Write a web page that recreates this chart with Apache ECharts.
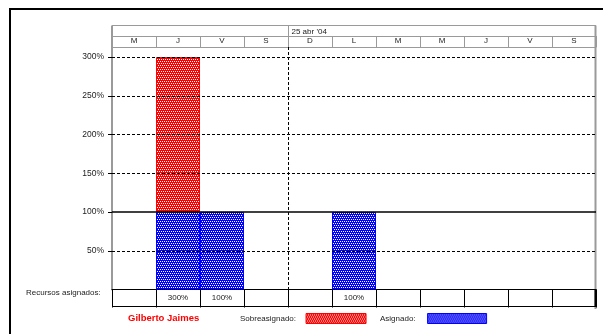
<!DOCTYPE html>
<html>
<head>
<meta charset="utf-8">
<script src="https://cdn.jsdelivr.net/npm/echarts@6/dist/echarts.min.js"></script>
<style>
  html, body { margin: 0; padding: 0; background: #fff; }
  #chart { width: 603px; height: 334px; }
</style>
</head>
<body>
<div id="chart"></div>
<script>
// Days shown in the resource graph (one column per day)
const days = ['21 abr', '22 abr', '23 abr', '24 abr', '25 abr', '26 abr', '27 abr', '28 abr', '29 abr', '30 abr', '1 may'];
const dayLetters = ['M', 'J', 'V', 'S', 'D', 'L', 'M', 'M', 'J', 'V', 'S'];
const weekLabel = "25 abr '04";
const weekStartIndex = 4;          // first day (Sunday) of the labelled week
const assigned = [0, 300, 100, 0, 0, 100, 0, 0, 0, 0, 0]; // % allocation per day
const capacity = 100;              // max units of the resource
const yTicks = [50, 100, 150, 200, 250, 300];
const resourceName = 'Gilberto Jaimes';
const rowLabel = 'Recursos asignados:';

// Split each day's allocation into the part within capacity and the excess
const withinCap = assigned.map(v => Math.min(v, capacity) || null);
const overCap = assigned.map(v => Math.max(v - capacity, 0) || null);

const FONT = '"Liberation Sans", Arial, sans-serif';
const GRID_LINE = '#9a9a9a';
const TEXT = '#222';

// Small dotted fill, like the classic resource-graph hatching
function hatch(color) {
  const c = document.createElement('canvas');
  c.width = 4; c.height = 4;
  const g = c.getContext('2d');
  g.fillStyle = color;
  g.fillRect(0, 0, 4, 4);
  g.fillStyle = '#ffffff';
  g.fillRect(0, 1, 1, 1);
  g.fillRect(2, 1, 1, 1);
  g.fillRect(1, 3, 1, 1);
  g.fillRect(3, 3, 1, 1);
  return { image: c, repeat: 'repeat' };
}

const chart = echarts.init(document.getElementById('chart'), null, { renderer: 'canvas' });

const legendBase = {
  top: 313, padding: 0, align: 'right', itemHeight: 10, selectedMode: false,
  formatter: '{name}:', icon: 'rect',
  itemStyle: { borderWidth: 1 }
};

const option = {
  animation: false,
  backgroundColor: '#fff',
  textStyle: { fontFamily: FONT },
  grid: { left: 112, right: 7, top: 47, bottom: 44.5 },
  title: {
    text: resourceName,
    left: 128, top: 313, padding: 0,
    textStyle: { color: '#ff0000', fontWeight: 'bold', fontSize: 9.5, fontFamily: FONT }
  },
  legend: [
    Object.assign({}, legendBase, {
      data: ['Sobreasignado'], left: 240, itemWidth: 60,
      textStyle: { fontSize: 8, color: TEXT, fontFamily: FONT, padding: [0, 5, 0, 0] }
    }),
    Object.assign({}, legendBase, {
      data: ['Asignado'], left: 380, itemWidth: 59,
      textStyle: { fontSize: 8, color: TEXT, fontFamily: FONT, padding: [0, 7, 0, 0] }
    })
  ],
  xAxis: [
    {
      // bottom row: the assigned percentage for each day
      type: 'category', data: days, position: 'bottom', boundaryGap: true,
      axisLine: { show: true, lineStyle: { color: '#000', width: 1 } },
      axisTick: { show: true, interval: 0, length: 18, lineStyle: { color: '#000', width: 1 } },
      axisLabel: {
        interval: 0, margin: 4, fontSize: 8, color: TEXT, fontFamily: FONT,
        formatter: (v, i) => assigned[i] ? assigned[i] + '%' : ''
      },
      splitLine: { show: false }
    },
    {
      // header row: weekday initials
      type: 'category', data: days, position: 'top', boundaryGap: true,
      axisLine: { show: true, lineStyle: { color: GRID_LINE, width: 1 } },
      axisTick: { show: true, interval: 0, length: 11, lineStyle: { color: GRID_LINE, width: 1 } },
      axisLabel: {
        interval: 0, margin: 2, fontSize: 8, color: TEXT, fontFamily: FONT,
        formatter: (v, i) => dayLetters[i]
      },
      splitLine: { show: false }
    }
  ],
  yAxis: {
    type: 'value', min: 0, max: 313,
    axisLine: { show: true, lineStyle: { color: GRID_LINE, width: 2 } },
    axisTick: { show: true, customValues: yTicks, length: 4, lineStyle: { color: '#000' } },
    axisLabel: {
      customValues: yTicks, margin: 8, fontSize: 8.5, color: TEXT, fontFamily: FONT,
      formatter: '{value}%'
    },
    splitLine: { show: false }
  },
  series: [
    {
      // horizontal reference lines at each tick
      type: 'line', data: [], z: 1, silent: true,
      markLine: {
        silent: true, symbol: 'none', label: { show: false },
        data: yTicks.map(v => ({
          yAxis: v,
          lineStyle: v === capacity
            ? { color: '#000', width: 1.5, type: 'solid' }
            : { color: '#000', width: 1, type: [3, 2] }
        }))
      }
    },
    {
      name: 'Asignado', type: 'bar', stack: 'alloc', data: withinCap, z: 3,
      barWidth: '100%', barCategoryGap: '0%',
      itemStyle: { color: hatch('#0000ff'), borderColor: '#0000ff', borderWidth: 1 }
    },
    {
      name: 'Sobreasignado', type: 'bar', stack: 'alloc', data: overCap, z: 3,
      barWidth: '100%', barCategoryGap: '0%',
      itemStyle: { color: hatch('#ff0000'), borderColor: '#ff0000', borderWidth: 1 }
    }
  ]
};

chart.setOption(option);

// Table frame around the graph; week divider placed from the category scale
const x0 = chart.convertToPixel({ xAxisIndex: 0 }, 0);
const x1 = chart.convertToPixel({ xAxisIndex: 0 }, 1);
const band = x1 - x0;
const left = x0 - band / 2;
const right = chart.convertToPixel({ xAxisIndex: 0 }, days.length - 1) + band / 2;
const weekX = Math.round(chart.convertToPixel({ xAxisIndex: 0 }, weekStartIndex) - band / 2) + 0.5;
const plotTop = chart.convertToPixel({ yAxisIndex: 0 }, 313);
const plotBottom = chart.convertToPixel({ yAxisIndex: 0 }, 0);
const yTop = 25.5, yMid = 36.5, yBottom = 306.5;

chart.setOption({
  graphic: [
    // outer frame
    { type: 'rect', shape: { x: 9, y: 8, width: 594, height: 2 }, style: { fill: '#000' }, silent: true },
    { type: 'rect', shape: { x: 9, y: 8, width: 2, height: 326 }, style: { fill: '#000' }, silent: true },
    // header rows
    { type: 'line', shape: { x1: left, y1: yTop, x2: right, y2: yTop }, style: { stroke: GRID_LINE, lineWidth: 1 }, silent: true },
    { type: 'line', shape: { x1: left, y1: yMid, x2: right, y2: yMid }, style: { stroke: GRID_LINE, lineWidth: 1 }, silent: true },
    { type: 'line', shape: { x1: left, y1: yTop, x2: left, y2: plotTop }, style: { stroke: GRID_LINE, lineWidth: 2 }, silent: true },
    { type: 'line', shape: { x1: weekX, y1: yTop, x2: weekX, y2: yMid }, style: { stroke: GRID_LINE, lineWidth: 1 }, silent: true },
    { type: 'text', x: weekX + 3, y: (yTop + yMid) / 2 + 0.5, style: { text: weekLabel, fontSize: 8, fontFamily: FONT, fill: TEXT, verticalAlign: 'middle' }, silent: true },
    // start of the week, dashed through the plot
    { type: 'line', z: 2, shape: { x1: weekX, y1: plotTop, x2: weekX, y2: plotBottom }, style: { stroke: '#000', lineWidth: 1, lineDash: [3, 2] }, silent: true },
    // right edge
    { type: 'line', shape: { x1: right - 0.5, y1: yTop, x2: right - 0.5, y2: 309 }, style: { stroke: GRID_LINE, lineWidth: 2 }, silent: true },
    { type: 'line', shape: { x1: right - 0.5, y1: plotBottom, x2: right - 0.5, y2: yBottom }, style: { stroke: '#000', lineWidth: 2 }, silent: true },
    // bottom row
    { type: 'line', shape: { x1: left, y1: yBottom, x2: right, y2: yBottom }, style: { stroke: '#000', lineWidth: 1 }, silent: true },
    { type: 'text', x: 26, y: 293, style: { text: rowLabel, fontSize: 8, fontFamily: FONT, fill: TEXT, verticalAlign: 'middle' }, silent: true }
  ]
});
</script>
</body>
</html>
